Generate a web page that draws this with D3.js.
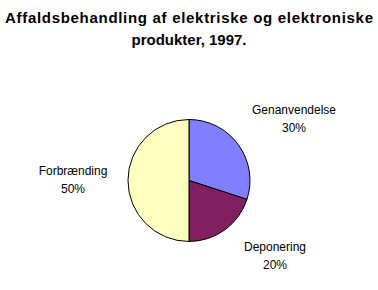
<!DOCTYPE html>
<html>
<head>
<meta charset="utf-8">
<script src="https://cdn.jsdelivr.net/npm/d3@7"></script>
<style>
  body { margin: 0; background: #fff; }
  text { font-family: "Liberation Sans", Arial, sans-serif; }
</style>
</head>
<body>
<div id="chart"></div>
<script>
var categories = ["Genanvendelse", "Deponering", "Forbrænding"];
var values = [30, 20, 50];
var colors = ["#8080FF", "#802060", "#FFFFC0"];
var titleLines = ["Affaldsbehandling af elektriske og elektroniske", "produkter, 1997."];

var width = 378;
var height = 290;
var cx = 189, cy = 180.5, radius = 61;

var svg = d3.select("#chart")
  .append("svg")
  .attr("width", width)
  .attr("height", height);

svg.selectAll("text.title")
  .data(titleLines)
  .enter()
  .append("text")
  .attr("class", "title")
  .attr("x", 189)
  .attr("y", function(d, i) { return 23 + i * 22; })
  .attr("text-anchor", "middle")
  .style("font-size", "15px")
  .style("font-weight", "bold")
  .text(function(d) { return d; });

// first title line is spread out wider in the original
svg.select("text.title")
  .attr("textLength", 368)
  .attr("lengthAdjust", "spacing");

var pie = d3.pie().sort(null).value(function(d) { return d; });
var arc = d3.arc().innerRadius(0).outerRadius(radius);
var arcs = pie(values);

var g = svg.append("g")
  .attr("transform", "translate(" + cx + "," + cy + ")");

g.selectAll("path")
  .data(arcs)
  .enter()
  .append("path")
  .attr("d", arc)
  .style("fill", function(d, i) { return colors[i]; })
  .style("stroke", "#000")
  .style("stroke-width", 1);

// label positions next to each slice
var labelPos = [[105, -67], [86, 70], [-116, -6]];

var labels = g.selectAll("g.label")
  .data(arcs)
  .enter()
  .append("g")
  .attr("class", "label")
  .attr("transform", function(d, i) {
    return "translate(" + labelPos[i][0] + "," + labelPos[i][1] + ")";
  });

labels.append("text")
  .attr("text-anchor", "middle")
  .attr("y", 0)
  .style("font-size", "12px")
  .text(function(d, i) { return categories[i]; });

labels.append("text")
  .attr("text-anchor", "middle")
  .attr("y", 18)
  .style("font-size", "12px")
  .text(function(d) { return d.value + "%"; });
</script>
</body>
</html>
